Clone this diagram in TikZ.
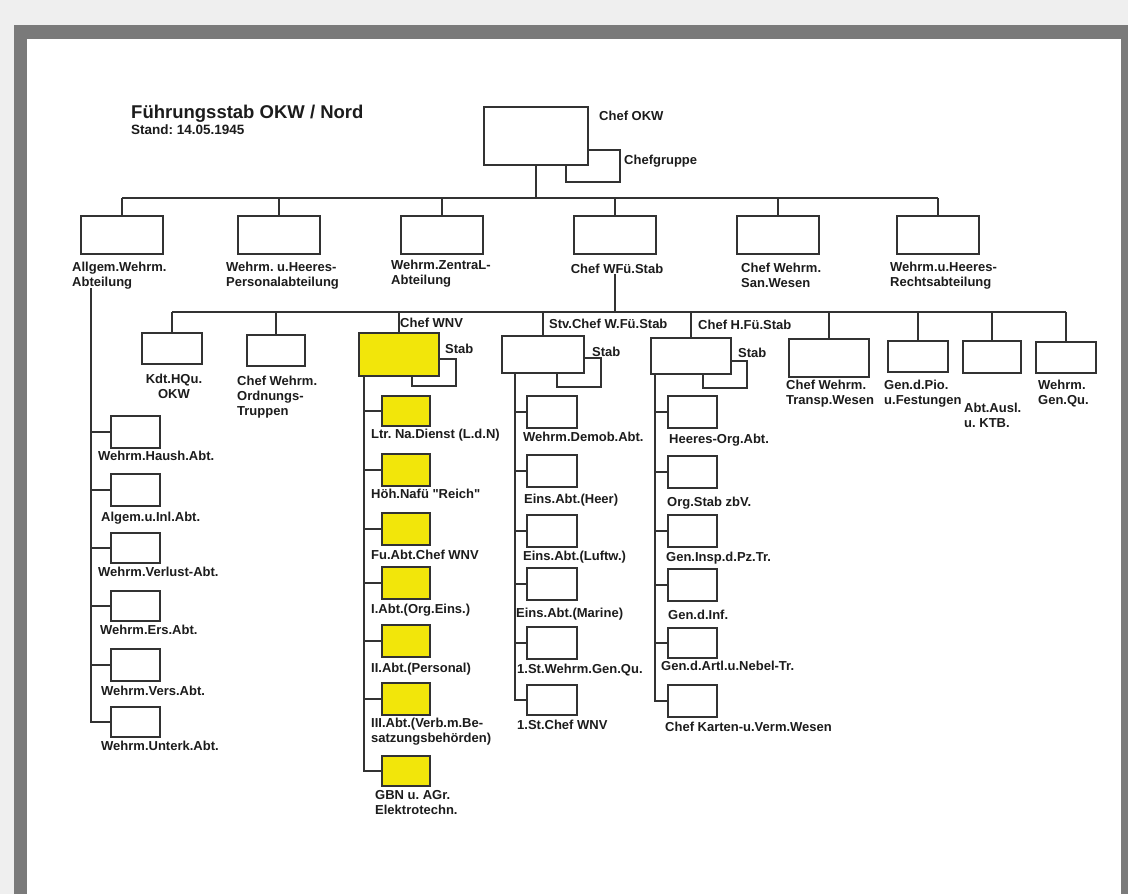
\documentclass[tikz,border=0pt]{standalone}
\usepackage{fontspec}
\setmainfont{Liberation Sans}[Ligatures=TeXOff]
\frenchspacing
\definecolor{bgl}{RGB}{239,239,239}
\definecolor{frm}{RGB}{122,122,122}
\definecolor{ln}{RGB}{50,50,50}
\definecolor{txt}{RGB}{28,28,28}
\definecolor{yel}{RGB}{242,230,10}
\newcommand\lbfont{\fontsize{13}{15}\selectfont\bfseries}
\newcommand\OBox[6]{%
  \pgfmathsetmacro\obw{#4-#2}\pgfmathsetmacro\obh{#5-#3}%
  \node[#6, minimum width=\obw pt, minimum height=\obh pt, anchor=north west] (#1) at (#2,#3) {};}
\begin{document}
\begin{tikzpicture}[x=1pt,y=-1pt,
  box/.style={draw=ln, line width=1.6pt, fill=white, inner sep=0pt, outer sep=0pt},
  ybox/.style={box, fill=yel},
  lbl/.style={font=\lbfont, text=txt, inner sep=0pt, anchor=north west, align=left},
  clbl/.style={lbl, anchor=north, align=center},
  con/.style={draw=ln, line width=1.6pt}]
\useasboundingbox (0,0) rectangle (1128,894);
\fill[bgl] (0,0) rectangle (1128,894);
\fill[frm] (14,25) rectangle (1128,894);
\fill[white] (27,39) rectangle (1121,894);

% title
\node[lbl, font=\fontsize{18.5}{20}\selectfont\bfseries] (title) at (131,105) {Führungsstab OKW / Nord};
\node[lbl, font=\fontsize{13.5}{15}\selectfont\bfseries] (stand) at (131,125) {Stand: 14.05.1945};

% top
\OBox{okwgrp}{566}{150}{620}{182}{box}
\OBox{okw}{484}{107}{588}{165}{box}
\node[lbl] (okwl) at (599,111) {Chef OKW};
\node[lbl] (grpl) at (624,155) {Chefgruppe};

% level 1
\coordinate (bus1) at (0,198);
\OBox{b1}{81}{216}{163}{254}{box}
\OBox{b2}{238}{216}{320}{254}{box}
\OBox{b3}{401}{216}{483}{254}{box}
\OBox{b4}{574}{216}{656}{254}{box}
\OBox{b5}{737}{216}{819}{254}{box}
\OBox{b6}{897}{216}{979}{254}{box}
\draw[con] (b1.north |- bus1) -- (b6.north |- bus1);
\draw[con] (okw.south) -- (okw.south |- bus1);
\foreach \n in {b1,b2,b3,b4,b5,b6} \draw[con] (\n.north) -- (\n.north |- bus1);

\node[lbl] (l1) at (72,262) {Allgem.Wehrm.\\Abteilung};
\node[lbl] (l2) at (226,262) {Wehrm. u.Heeres-\\Personalabteilung};
\node[lbl] (l3) at (391,260) {Wehrm.ZentraL-\\Abteilung};
\node[clbl] (l4) at (617,264) {Chef WFü.Stab};
\node[lbl] (l5) at (741,263) {Chef Wehrm.\\San.Wesen};
\node[lbl] (l6) at (890,262) {Wehrm.u.Heeres-\\Rechtsabteilung};

% level 2
\coordinate (bus2) at (0,312);
\OBox{k1}{142}{333}{202}{364}{box}
\OBox{k2}{247}{335}{305}{366}{box}
\OBox{wnvstab}{412}{359}{456}{386}{box}
\OBox{wnv}{359}{333}{439}{376}{ybox}
\OBox{stvstab}{557}{358}{601}{387}{box}
\OBox{stv}{502}{336}{584}{373}{box}
\OBox{hfustab}{703}{361}{747}{388}{box}
\OBox{hfu}{651}{338}{731}{374}{box}
\OBox{transp}{789}{339}{869}{377}{box}
\OBox{pio}{888}{341}{948}{372}{box}
\OBox{ausl}{963}{341}{1021}{373}{box}
\OBox{genqu}{1036}{342}{1096}{373}{box}
\draw[con] (l4.south -| b4.south) -- (b4.south |- bus2);
\draw[con] (k1.north |- bus2) -- (genqu.north |- bus2);
\foreach \n in {k1,k2,wnv,stv,hfu,transp,pio,ausl,genqu} \draw[con] (\n.north) -- (\n.north |- bus2);

\node[clbl] (k1l) at (174,374) {Kdt.HQu.\\OKW};
\node[lbl] (k2l) at (237,376) {Chef Wehrm.\\Ordnungs-\\Truppen};
\node[lbl] (wnvl) at (400,318) {Chef WNV};
\node[lbl] (wnvsl) at (445,344) {Stab};
\node[lbl] (stvl) at (549,319) {Stv.Chef W.Fü.Stab};
\node[lbl] (stvsl) at (592,347) {Stab};
\node[lbl] (hful) at (698,320) {Chef H.Fü.Stab};
\node[lbl] (hfusl) at (738,348) {Stab};
\node[lbl] (transpl) at (786,380) {Chef Wehrm.\\Transp.Wesen};
\node[lbl] (piol) at (884,380) {Gen.d.Pio.\\u.Festungen};
\node[lbl] (ausll) at (964,403) {Abt.Ausl.\\u. KTB.};
\node[lbl] (genqul) at (1038,380) {Wehrm.\\Gen.Qu.};

% Allgem. column
\coordinate (aT) at (91,288);
\OBox{a1}{111}{416}{160}{448}{box}
\OBox{a2}{111}{474}{160}{506}{box}
\OBox{a3}{111}{533}{160}{563}{box}
\OBox{a4}{111}{591}{160}{621}{box}
\OBox{a5}{111}{649}{160}{681}{box}
\OBox{a6}{111}{707}{160}{737}{box}
\draw[con] (aT) |- (a6.west);
\foreach \n in {a1,a2,a3,a4,a5} \draw[con] (\n.west) -- (\n.west -| aT);
\node[lbl] (a1l) at (98,451) {Wehrm.Haush.Abt.};
\node[lbl] (a2l) at (101,512) {Algem.u.Inl.Abt.};
\node[lbl] (a3l) at (98,567) {Wehrm.Verlust-Abt.};
\node[lbl] (a4l) at (100,625) {Wehrm.Ers.Abt.};
\node[lbl] (a5l) at (101,686) {Wehrm.Vers.Abt.};
\node[lbl] (a6l) at (101,741) {Wehrm.Unterk.Abt.};

% WNV column
\coordinate (wT) at ([xshift=5pt]wnv.south west);
\OBox{w1}{382}{396}{430}{426}{ybox}
\OBox{w2}{382}{454}{430}{486}{ybox}
\OBox{w3}{382}{513}{430}{545}{ybox}
\OBox{w4}{382}{567}{430}{599}{ybox}
\OBox{w5}{382}{625}{430}{657}{ybox}
\OBox{w6}{382}{683}{430}{715}{ybox}
\OBox{w7}{382}{756}{430}{786}{ybox}
\draw[con] (wT) |- (w7.west);
\foreach \n in {w1,w2,w3,w4,w5,w6} \draw[con] (\n.west) -- (\n.west -| wT);
\node[lbl] (w1l) at (371,429) {Ltr. Na.Dienst (L.d.N)};
\node[lbl] (w2l) at (371,489) {Höh.Nafü "Reich"};
\node[lbl] (w3l) at (371,550) {Fu.Abt.Chef WNV};
\node[lbl] (w4l) at (371,604) {I.Abt.(Org.Eins.)};
\node[lbl] (w5l) at (371,663) {II.Abt.(Personal)};
\node[lbl] (w6l) at (371,718) {III.Abt.(Verb.m.Be-\\satzungsbehörden)};
\node[lbl] (w7l) at (375,790) {GBN u. AGr.\\Elektrotechn.};

% Stv column
\coordinate (sT) at ([xshift=13pt]stv.south west);
\OBox{s1}{527}{396}{577}{428}{box}
\OBox{s2}{527}{455}{577}{487}{box}
\OBox{s3}{527}{515}{577}{547}{box}
\OBox{s4}{527}{568}{577}{600}{box}
\OBox{s5}{527}{627}{577}{659}{box}
\OBox{s6}{527}{685}{577}{715}{box}
\draw[con] (sT) |- (s6.west);
\foreach \n in {s1,s2,s3,s4,s5} \draw[con] (\n.west) -- (\n.west -| sT);
\node[lbl] (s1l) at (523,432) {Wehrm.Demob.Abt.};
\node[lbl] (s2l) at (524,494) {Eins.Abt.(Heer)};
\node[lbl] (s3l) at (523,551) {Eins.Abt.(Luftw.)};
\node[lbl] (s4l) at (516,608) {Eins.Abt.(Marine)};
\node[lbl] (s5l) at (517,664) {1.St.Wehrm.Gen.Qu.};
\node[lbl] (s6l) at (517,720) {1.St.Chef WNV};

% H.Fue column
\coordinate (hT) at ([xshift=4pt]hfu.south west);
\OBox{h1}{668}{396}{717}{428}{box}
\OBox{h2}{668}{456}{717}{488}{box}
\OBox{h3}{668}{515}{717}{547}{box}
\OBox{h4}{668}{569}{717}{601}{box}
\OBox{h5}{668}{628}{717}{658}{box}
\OBox{h6}{668}{685}{717}{717}{box}
\draw[con] (hT) |- (h6.west);
\foreach \n in {h1,h2,h3,h4,h5} \draw[con] (\n.west) -- (\n.west -| hT);
\node[lbl] (h1l) at (669,434) {Heeres-Org.Abt.};
\node[lbl] (h2l) at (667,497) {Org.Stab zbV.};
\node[lbl] (h3l) at (666,552) {Gen.Insp.d.Pz.Tr.};
\node[lbl] (h4l) at (668,610) {Gen.d.Inf.};
\node[lbl] (h5l) at (661,661) {Gen.d.Artl.u.Nebel-Tr.};
\node[lbl] (h6l) at (665,722) {Chef Karten-u.Verm.Wesen};
\end{tikzpicture}
\end{document}
